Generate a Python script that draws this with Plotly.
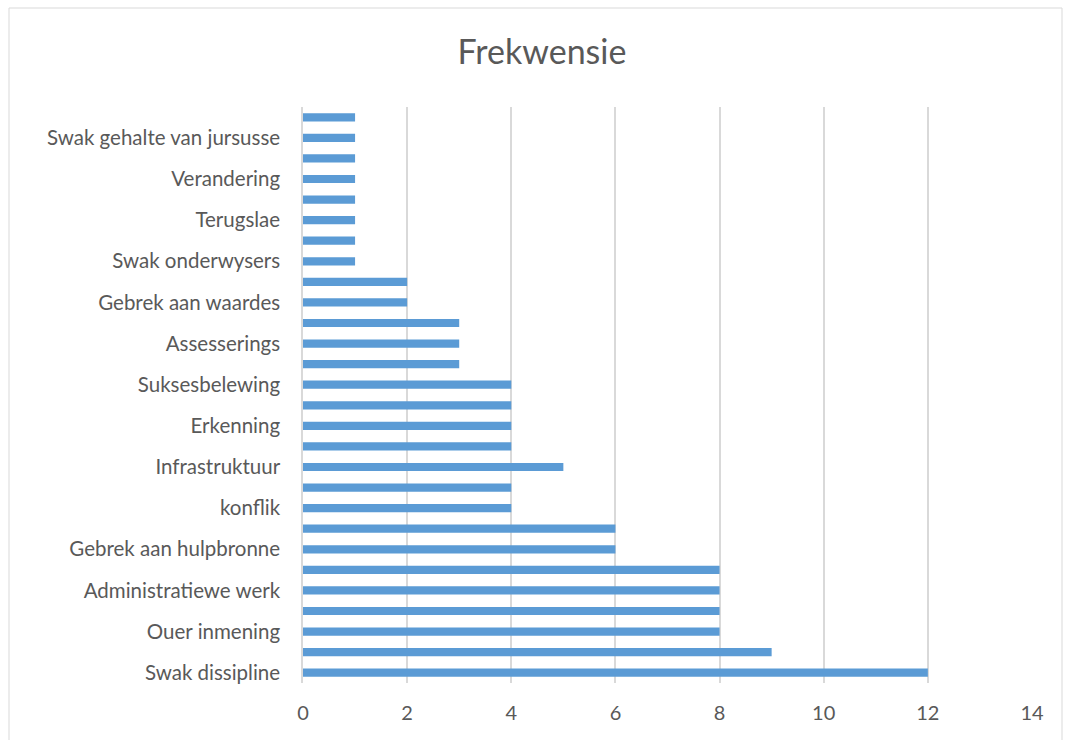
import plotly.graph_objects as go

# Frequencies, listed from the bottom bar upwards
frequencies = [12, 9, 8, 8, 8, 8, 6, 6, 4, 4, 5, 4, 4, 4, 4, 3, 3, 3, 2, 2,
               1, 1, 1, 1, 1, 1, 1, 1]

# Only every second category carries a visible label
tick_positions = [0, 2, 4, 6, 8, 10, 12, 14, 16, 18, 20, 22, 24, 26]
tick_labels = [
    "Swak dissipline",
    "Ouer inmening",
    "Administratiewe werk",
    "Gebrek aan hulpbronne",
    "konflik",
    "Infrastruktuur",
    "Erkenning",
    "Suksesbelewing",
    "Assesserings",
    "Gebrek aan waardes",
    "Swak onderwysers",
    "Terugslae",
    "Verandering",
    "Swak gehalte van jursusse",
]

x_ticks = [0, 2, 4, 6, 8, 10, 12, 14]

positions = list(range(len(frequencies)))

FONT = "Lato"
TEXT = "#595959"
GRID = "#d9d9d9"

fig = go.Figure(
    go.Bar(
        x=frequencies,
        y=positions,
        orientation="h",
        width=0.4,
        marker=dict(color="#5b9bd5", line=dict(width=0)),
        hoverinfo="x",
    )
)

L, R, T, B = 303, 35, 107, 57
W, H = 1067, 740
pw, ph = W - L - R, H - T - B

fig.update_layout(
    width=W,
    height=H,
    margin=dict(l=L, r=R, t=T, b=B),
    paper_bgcolor="white",
    plot_bgcolor="white",
    showlegend=False,
    title=dict(
        text="Frekwensie",
        x=542 / W,
        xref="container",
        xanchor="center",
        y=1 - 52 / H,
        yref="container",
        yanchor="middle",
        font=dict(family=FONT, size=34, color=TEXT),
    ),
    xaxis=dict(
        range=[0, 14],
        tickvals=x_ticks,
        ticktext=[str(v) for v in x_ticks],
        showgrid=True,
        gridcolor=GRID,
        gridwidth=1.5,
        zeroline=False,
        showline=False,
        ticks="",
        tickfont=dict(family=FONT, size=20, color=TEXT),
        ticklabelstandoff=16,
        fixedrange=True,
    ),
    yaxis=dict(
        range=[-0.5, len(frequencies) - 0.5],
        tickvals=tick_positions,
        ticktext=tick_labels,
        showgrid=False,
        zeroline=False,
        showline=True,
        linecolor=GRID,
        linewidth=1.5,
        ticks="",
        ticklabelstandoff=17,
        tickfont=dict(family=FONT, size=20.5, color=TEXT),
        fixedrange=True,
    ),
    shapes=[
        dict(
            type="rect",
            xref="paper",
            yref="paper",
            x0=(9 - L) / pw,
            x1=(1062 - L) / pw,
            y0=(H - B - 760) / ph,
            y1=(H - B - 8) / ph,
            line=dict(color="#d9d9d9", width=1),
            fillcolor="rgba(0,0,0,0)",
            layer="below",
        )
    ],
)

fig.write_html("out.html")
